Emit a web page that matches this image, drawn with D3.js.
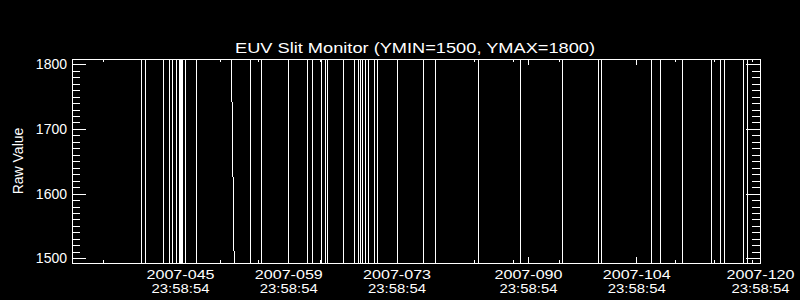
<!DOCTYPE html>
<html>
<head>
<meta charset="utf-8">
<script src="https://cdn.jsdelivr.net/npm/d3@7"></script>
<style>
  html, body { margin: 0; padding: 0; background: #000; }
  svg { display: block; }
  text { font-family: "Liberation Sans", Arial, sans-serif; fill: #fff; }
</style>
</head>
<body>
<svg id="chart" width="800" height="300"></svg>
<script>
// ---- Data (day of year 2007, value) ----
const sampleDays = [
  31.03,
  40.08, 40.08, 40.53, 40.53, 42.86, 42.86, 43.70, 43.70, 44.09, 44.09,
  44.48, 44.48, 44.94, 44.94, 45.07, 45.07, 45.20, 45.20, 45.33, 45.33,
  45.71, 45.71, 47.13, 47.13, 47.13, 51.60, 52.05,
  54.11, 54.11, 55.56, 55.56, 59.09, 59.09, 61.48, 61.48, 62.10, 62.10,
  63.23, 63.23, 63.75, 63.75, 64.13, 64.13, 66.11, 66.11, 67.56, 67.56,
  68.05, 68.05, 68.34, 68.34, 68.62, 68.62, 68.96, 68.96, 69.31, 69.31,
  70.15, 70.15, 70.57, 70.57, 73.12, 73.12, 76.48, 76.48, 78.10, 78.10,
  83.57, 83.57, 89.00, 89.00, 94.43, 94.43, 99.11, 99.11, 99.47, 99.47,
  105.94, 105.94, 107.10, 107.10, 109.95, 109.95, 113.70, 113.70,
  114.85, 114.85, 115.38, 115.38, 117.86, 117.86, 118.34, 118.34,
  120.00
];
const rawValues = [
  1450,
  1450, 1850, 1850, 1450, 1450, 1850, 1850, 1450, 1450, 1850,
  1850, 1450, 1450, 1850, 1850, 1450, 1450, 1850, 1850, 1450,
  1450, 1850, 1850, 1450, 1850, 1850, 1450,
  1450, 1850, 1850, 1450, 1450, 1850, 1850, 1450, 1450, 1850,
  1850, 1450, 1450, 1850, 1850, 1450, 1450, 1850, 1850, 1450,
  1450, 1850, 1850, 1450, 1450, 1850, 1850, 1450, 1450, 1850,
  1850, 1450, 1450, 1850, 1850, 1450, 1450, 1850, 1850, 1450,
  1450, 1850, 1850, 1450, 1450, 1850, 1850, 1450, 1450, 1850,
  1850, 1450, 1450, 1850, 1850, 1450, 1450, 1850,
  1850, 1450, 1450, 1850, 1850, 1450, 1450, 1850,
  1850
];

const xMajorTicks = [45, 59, 73, 90, 104, 120];
const xTickDates = ["2007-045", "2007-059", "2007-073", "2007-090", "2007-104", "2007-120"];
const xTickTimes = ["23:58:54", "23:58:54", "23:58:54", "23:58:54", "23:58:54", "23:58:54"];
const xMinorTicks = [35.08, 50.13, 55.12, 63.1, 78.0, 83.05, 88.1, 94.05, 109.0, 114.1, 118.97];
const yMajorTicks = [1500, 1600, 1700, 1800];
const yMinorTicks = d3.range(1500, 1801, 10);

const titleText = "EUV Slit Monitor (YMIN=1500, YMAX=1800)";
const yLabel = "Raw Value";

// ---- Layout ----
const X0 = 72, X1 = 760, Y0 = 59, Y1 = 263;
const svg = d3.select("#chart");
svg.append("rect").attr("width", 800).attr("height", 300).attr("fill", "#000");

const x = d3.scaleLinear().domain([31.03, 120]).range([X0, X1]);
const y = d3.scaleLinear().domain([1492.7, 1808.2]).range([Y1, Y0]);

svg.append("defs").append("clipPath").attr("id", "clip")
  .append("rect").attr("x", X0).attr("y", Y0).attr("width", X1 - X0 + 1).attr("height", Y1 - Y0 + 1);

const pts = sampleDays.map((d, i) => ({ day: d, val: rawValues[i] }));
svg.append("path")
  .datum(pts)
  .attr("clip-path", "url(#clip)")
  .attr("fill", "none")
  .attr("stroke", "#fff")
  .attr("stroke-width", 1)
  .attr("shape-rendering", "crispEdges")
  .attr("d", d3.line().x(d => x(d.day)).y(d => y(d.val)));

function styleAxis(g) {
  g.select(".domain").remove();
  g.selectAll("line").attr("stroke", "#fff").attr("shape-rendering", "crispEdges");
  g.selectAll("text").attr("fill", "#fff");
}

// Y axes
svg.append("g").attr("transform", `translate(${X0},0)`)
  .call(d3.axisLeft(y).tickValues(yMinorTicks).tickSize(-8).tickFormat(""))
  .call(styleAxis);
svg.append("g").attr("transform", `translate(${X0},0)`)
  .call(d3.axisLeft(y).tickValues(yMajorTicks).tickSize(-14).tickPadding(5).tickFormat(d3.format("d")))
  .call(styleAxis)
  .call(g => g.selectAll("text").style("font-size", "14px").attr("font-family", "Liberation Sans, Arial, sans-serif"));
svg.append("g").attr("transform", `translate(${X1},0)`)
  .call(d3.axisRight(y).tickValues(yMinorTicks).tickSize(-8).tickFormat(""))
  .call(styleAxis);
svg.append("g").attr("transform", `translate(${X1},0)`)
  .call(d3.axisRight(y).tickValues(yMajorTicks).tickSize(-14).tickFormat(""))
  .call(styleAxis);

// X axes
svg.append("g").attr("transform", `translate(0,${Y1})`)
  .call(d3.axisBottom(x).tickValues(xMinorTicks).tickSize(-3).tickFormat(""))
  .call(styleAxis);
const xb = svg.append("g").attr("transform", `translate(0,${Y1})`)
  .call(d3.axisBottom(x).tickValues(xMajorTicks).tickSize(-6).tickPadding(0).tickFormat(""))
  .call(styleAxis);
xb.selectAll(".tick").each(function(d, i) {
  const g = d3.select(this);
  g.append("text")
    .attr("x", 0).attr("y", 15.5)
    .attr("text-anchor", "middle")
    .style("font-size", "12.5px")
    .attr("textLength", 68).attr("lengthAdjust", "spacingAndGlyphs")
    .text(xTickDates[i]);
  g.append("text")
    .attr("x", 0).attr("y", 29.5)
    .attr("text-anchor", "middle")
    .style("font-size", "12.5px")
    .attr("textLength", 58).attr("lengthAdjust", "spacingAndGlyphs")
    .text(xTickTimes[i]);
});
svg.append("g").attr("transform", `translate(0,${Y0})`)
  .call(d3.axisTop(x).tickValues(xMinorTicks).tickSize(-3).tickFormat(""))
  .call(styleAxis);
svg.append("g").attr("transform", `translate(0,${Y0})`)
  .call(d3.axisTop(x).tickValues(xMajorTicks).tickSize(-6).tickFormat(""))
  .call(styleAxis);

// frame
svg.append("rect")
  .attr("x", X0 + 0.5).attr("y", Y0 + 0.5)
  .attr("width", X1 - X0).attr("height", Y1 - Y0)
  .attr("fill", "none").attr("stroke", "#fff").attr("stroke-width", 1)
  .attr("shape-rendering", "crispEdges");

// title
svg.append("text")
  .attr("x", (X0 + X1) / 2 - 1).attr("y", 53)
  .attr("text-anchor", "middle")
  .style("font-size", "15px")
  .attr("textLength", 360).attr("lengthAdjust", "spacingAndGlyphs")
  .text(titleText);

// y label
svg.append("text")
  .attr("transform", "translate(23,161) rotate(-90)")
  .attr("text-anchor", "middle")
  .style("font-size", "14px")
  .text(yLabel);
</script>
</body>
</html>
